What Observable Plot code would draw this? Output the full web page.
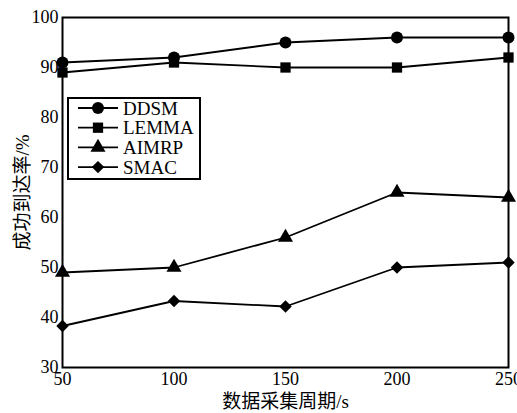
<!DOCTYPE html>
<html><head><meta charset="utf-8">
<script src="https://cdn.jsdelivr.net/npm/d3@7"></script>
<script src="https://cdn.jsdelivr.net/npm/@observablehq/plot@0.6"></script>
<style>body{margin:0;background:#fff} #chart{position:relative;width:517px;height:413px}</style>
</head><body><div id="chart"></div>
<script>
const periods = [50, 100, 150, 200, 250];
const ddsm = [91, 92, 95, 96, 96];
const lemma = [89, 91, 90, 90, 92];
const aimrp = [49, 50, 56, 65, 64];
const smac = [38.3, 43.3, 42.2, 50, 51];
const seriesNames = ["DDSM", "LEMMA", "AIMRP", "SMAC"];
const seriesValues = [ddsm, lemma, aimrp, smac];
const yTicks = [30, 40, 50, 60, 70, 80, 90, 100];
const xTicks = [50, 100, 150, 200, 250];
const xLabel = "数据采集周期/s";
const yLabel = "成功到达率/%";

const symbols = ["circle", "square", "triangle", "diamond2"];
const radii = [6, 5.8, 5.6, 5.6];
const FONT = "Liberation Serif, Times New Roman, Noto Sans CJK SC, serif";

const rows = seriesNames.flatMap((s, i) => periods.map((p, j) => ({series: s, x: p, y: seriesValues[i][j]})));

const marks = [];
seriesNames.forEach((s, i) => {
  const d = rows.filter(r => r.series === s);
  marks.push(Plot.line(d, {x: "x", y: "y", stroke: "#000", strokeWidth: 1.8}));
  marks.push(Plot.dot(d, {x: "x", y: "y", symbol: () => symbols[i], r: radii[i], fill: "#000", stroke: "none"}));
});

const plot = Plot.plot({
  width: 517, height: 413,
  marginLeft: 62, marginTop: 17, marginRight: 9, marginBottom: 46,
  style: {fontFamily: FONT, fontSize: "18px", color: "#000", background: "#fff", overflow: "visible"},
  x: {domain: [50, 250]},
  y: {domain: [30, 100]},
  symbol: {type: "identity"},
  marks: [
    Plot.axisY({ticks: yTicks, tickSize: 0, tickPadding: 4, fontSize: 18, fontFamily: FONT, label: null}),
    Plot.axisX({ticks: xTicks, tickSize: 0, tickPadding: 5, fontSize: 18, fontFamily: FONT, label: null}),
    Plot.axisY({ticks: [], tickSize: 0, fontSize: 19, fontFamily: FONT, label: yLabel, labelAnchor: "center", labelArrow: "none", labelOffset: 47}),
    Plot.axisX({ticks: [], tickSize: 0, fontSize: 19, fontFamily: FONT, label: xLabel, labelAnchor: "center", labelArrow: "none", labelOffset: 40, dx: -9}),
    ...marks,
    Plot.frame({stroke: "#000", strokeWidth: 2})
  ]
});
document.getElementById("chart").appendChild(plot);

// legend
const svg = d3.select(plot);
const lg = svg.append("g");
lg.append("rect").attr("x", 68).attr("y", 98).attr("width", 132).attr("height", 81)
  .attr("fill", "#fff").attr("stroke", "#000").attr("stroke-width", 2);
const symMap = {circle: d3.symbolCircle, square: d3.symbolSquare, triangle: d3.symbolTriangle, diamond2: d3.symbolDiamond2};
seriesNames.forEach((s, i) => {
  const y = 108 + i * 19.7;
  lg.append("line").attr("x1", 78).attr("x2", 118).attr("y1", y).attr("y2", y).attr("stroke", "#000").attr("stroke-width", 1.8);
  lg.append("path").attr("transform", `translate(98,${y})`)
    .attr("d", d3.symbol(symMap[symbols[i]], radii[i] * radii[i] * Math.PI)()).attr("fill", "#000");
  lg.append("text").attr("x", 123).attr("y", y).attr("dy", "0.35em").attr("font-size", 19)
    .attr("text-anchor", "start").attr("font-family", FONT).attr("fill", "#000").text(s);
});
</script></body></html>
